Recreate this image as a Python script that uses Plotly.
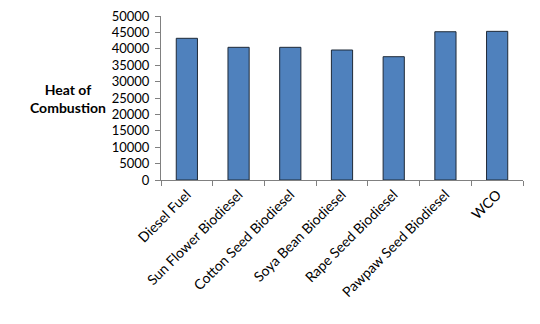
import plotly.graph_objects as go

categories = ["Diesel Fuel", "Sun Flower Biodiesel", "Cotton Seed Biodiesel",
              "Soya Bean Biodiesel", "Rape Seed Biodiesel", "Pawpaw Seed Biodiesel", "WCO"]
values = [43200, 40450, 40450, 39630, 37590, 45200, 45320]
y_ticks = [0, 5000, 10000, 15000, 20000, 25000, 30000, 35000, 40000, 45000, 50000]

font = "Lato, 'Open Sans', sans-serif"

fig = go.Figure(go.Bar(
    x=categories, y=values,
    marker=dict(color="#4F81BD", line=dict(color="#1f2a38", width=1)),
))

fig.update_layout(
    width=540, height=324,
    margin=dict(l=153, r=25, t=8, b=152, autoexpand=False),
    plot_bgcolor="white", paper_bgcolor="white",
    bargap=0.59,
    showlegend=False,
    font=dict(family=font, size=14, color="black"),
    annotations=[dict(
        text="<b>Heat of<br>Combustion</b>", x=-0.257, y=0.5, xref="paper", yref="paper",
        xanchor="center", yanchor="middle",
        showarrow=False, font=dict(family=font, size=14, color="black"),
    )],
)

fig.update_xaxes(
    type="category", tickangle=-45, tickson="boundaries", automargin=False,
    ticks="outside", ticklen=5, tickcolor="#808080",
    showline=True, linecolor="#808080", linewidth=1,
    showgrid=False, tickfont=dict(family=font, size=14),
)
fig.update_yaxes(
    range=[0, 50000], tickvals=y_ticks, ticktext=[str(v) for v in y_ticks],
    automargin=False, ticklabelstandoff=3, ticklabeloverflow="allow",
    ticks="outside", ticklen=5, tickcolor="#808080",
    showline=True, linecolor="#808080", linewidth=1,
    showgrid=False, zeroline=False, tickfont=dict(family=font, size=13),
)

fig.write_html("out.html")
